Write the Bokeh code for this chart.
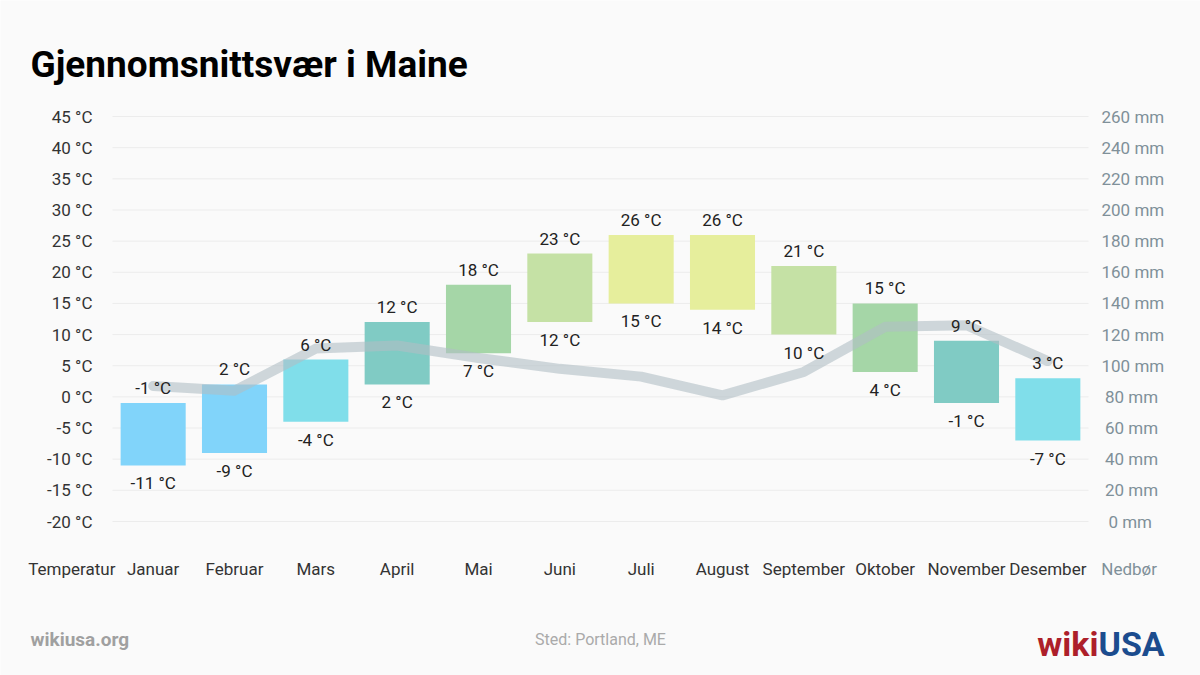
from bokeh.plotting import figure
from bokeh.models import Range1d, LinearAxis, FixedTicker, Label, ColumnDataSource
from bokeh.core.properties import value
from bokeh.embed import file_html
from bokeh.resources import INLINE

# ---------------- data ----------------
months = ["Januar", "Februar", "Mars", "April", "Mai", "Juni", "Juli",
          "August", "September", "Oktober", "November", "Desember"]
temp_high = [-1, 2, 6, 12, 18, 23, 26, 26, 21, 15, 9, 3]
temp_low = [-11, -9, -4, 2, 7, 12, 15, 14, 10, 4, -1, -7]
precip_mm = [87, 84, 111, 113, 105, 98, 93, 81, 96, 125, 126, 103]
bar_colors = ["#81d4fa", "#81d4fa", "#80deea", "#80cbc4", "#a5d6a7", "#c5e1a5",
              "#e6ee9c", "#e6ee9c", "#c5e1a5", "#a5d6a7", "#80cbc4", "#80deea"]
temp_ticks = list(range(-20, 50, 5))
precip_ticks = list(range(0, 280, 20))

# ---------------- layout helpers (page pixels -> data units) ----------------
W, H = 1200, 675
PLOT_L, PLOT_R, PLOT_T, PLOT_B = 112, 1088, 116, 521
T_MIN, T_MAX = -20, 45
P_MAX = 260
XU = (PLOT_R - PLOT_L) / len(months)          # px per month
YU = (PLOT_B - PLOT_T) / (T_MAX - T_MIN)      # px per degree

def dx(px):
    return (px - PLOT_L) / XU

def dy(py):
    return T_MAX - (py - PLOT_T) / YU

def t2p(t):
    return (t - T_MIN) * P_MAX / (T_MAX - T_MIN)

FONT = "Roboto"
BG = "#fafafa"
TXT = "#333333"
RIGHT_C = "#7f9099"

x = [i + 0.5 for i in range(len(months))]
src = ColumnDataSource(dict(
    x=x, high=temp_high, low=temp_low, color=bar_colors, precip=precip_mm,
    high_txt=[f"{v} °C" for v in temp_high],
    low_txt=[f"{v} °C" for v in temp_low],
))

p = figure(width=W, height=H, output_backend="svg", toolbar_location=None,
           x_range=Range1d(dx(0), dx(W)), y_range=Range1d(dy(H), dy(0)),
           min_border=0, min_border_left=0, min_border_right=0,
           min_border_top=0, min_border_bottom=0,
           background_fill_color=BG, border_fill_color=BG)
p.outline_line_color = None
p.extra_y_ranges = {"precip": Range1d(t2p(dy(H)), t2p(dy(0)))}

# ---------------- axes ----------------
p.xaxis.ticker = FixedTicker(ticks=x)
p.xaxis.major_label_overrides = {xi: m for xi, m in zip(x, months)}
p.yaxis.ticker = FixedTicker(ticks=temp_ticks)
p.yaxis.major_label_overrides = {t: f"{t} °C" for t in temp_ticks}

def mm_label(t):
    s = f"{t} mm"
    pad = 3 - len(str(t))
    return "\u2009" * pad + s

right = LinearAxis(y_range_name="precip", ticker=FixedTicker(ticks=precip_ticks))
right.major_label_overrides = {t: mm_label(t) for t in precip_ticks}
p.add_layout(right, "right")

for ax in [p.xaxis[0], p.yaxis[0], right]:
    ax.axis_line_color = None
    ax.major_tick_line_color = None
    ax.minor_tick_line_color = None
    ax.major_tick_in = 0
    ax.major_tick_out = 0
    ax.major_label_text_font = FONT
    ax.major_label_text_font_size = "17px"
    ax.major_label_text_color = TXT
p.xaxis.major_label_standoff = -117
p.yaxis.major_label_standoff = -92
right.major_label_standoff = -99
right.major_label_text_color = RIGHT_C

p.xgrid.grid_line_color = None
p.ygrid.grid_line_color = None

# horizontal grid lines limited to the plotting area
p.segment(x0=0, x1=len(months), y0=temp_ticks, y1=temp_ticks,
          line_color="#ececec", line_width=1)

# ---------------- bars ----------------
p.vbar(x="x", bottom="low", top="high", width=0.8, fill_color="color",
       line_color=None, source=src)

# ---------------- precipitation line ----------------
p.line(x="x", y="precip", y_range_name="precip", source=src, line_width=10,
       line_color="#b0bec5", line_alpha=0.6, line_cap="round", line_join="round")

# ---------------- value labels ----------------
p.text(x="x", y="high", text="high_txt", source=src, text_font=value(FONT),
       text_font_size="17px", text_color="#222222", text_align="center",
       text_baseline="middle", y_offset=-15)
p.text(x="x", y="low", text="low_txt", source=src, text_font=value(FONT),
       text_font_size="17px", text_color="#222222", text_align="center",
       text_baseline="middle", y_offset=18)

# ---------------- captions ----------------
p.add_layout(Label(x=-0.5, y=dy(568), text="Temperatur", text_font=FONT,
                   text_font_size="17px", text_color=TXT,
                   text_align="center", text_baseline="middle"))
p.add_layout(Label(x=len(months) + 0.5, y=dy(568), text="Nedbør", text_font=FONT,
                   text_font_size="17px", text_color=RIGHT_C,
                   text_align="center", text_baseline="middle"))
p.add_layout(Label(x=dx(30), y=dy(64), text="Gjennomsnittsvær i Maine", text_font=FONT,
                   text_font_size="37px", text_font_style="bold", text_color="#000000",
                   text_align="left", text_baseline="alphabetic"))
p.add_layout(Label(x=dx(30), y=dy(639), text="wikiusa.org", text_font=FONT,
                   text_font_size="19px", text_font_style="bold", text_color="#a0a0a0",
                   text_align="left", text_baseline="alphabetic"))
p.add_layout(Label(x=dx(600), y=dy(639), text="Sted: Portland, ME", text_font=FONT,
                   text_font_size="16px", text_color="#aaaaaa",
                   text_align="center", text_baseline="alphabetic"))
p.add_layout(Label(x=dx(1098), y=dy(643), text="wiki", text_font=FONT,
                   text_font_size="34px", text_font_style="bold", text_color="#ad1f2a",
                   text_align="right", text_baseline="alphabetic"))
p.add_layout(Label(x=dx(1098), y=dy(643), text="USA", text_font=FONT,
                   text_font_size="34px", text_font_style="bold", text_color="#1b4c8e",
                   text_align="left", text_baseline="alphabetic"))

open("out.html", "w").write(file_html(p, INLINE))
